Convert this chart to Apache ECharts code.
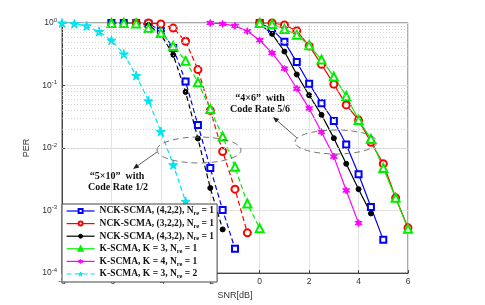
<!DOCTYPE html>
<html><head><meta charset="utf-8">
<script src="https://cdn.jsdelivr.net/npm/echarts@6/dist/echarts.min.js"></script>
<style>html,body{margin:0;padding:0;background:#fff}#c{width:485px;height:305px}</style>
</head><body><div id="c"></div>
<script>
// ---- data (SNR in dB, PER) ----
const seriesNames = [
  'NCK-SCMA, (4,2,2), Nre = 1',
  'NCK-SCMA, (3,2,2), Nre = 1',
  'NCK-SCMA, (4,3,2), Nre = 1',
  'K-SCMA, K = 3, Nre = 1',
  'K-SCMA, K = 4, Nre = 1',
  'K-SCMA, K = 3, Nre = 2'
];
// "4x6" code rate 5/6 (solid)
const blueSolidX = [0,0.5,1,1.5,2,2.5,3,3.5,4,4.5,5];
const blueSolidY = [1.0,0.8,0.5,0.237,0.107,0.052,0.027,0.0114,0.0038,0.00114,0.00034];
const redSolidX = [0,0.5,1,1.5,2,2.5,3,3.5,4,4.5,5,5.5,6];
const redSolidY = [1.0,1.0,0.93,0.75,0.43,0.218,0.105,0.049,0.028,0.0124,0.0056,0.0016,0.00053];
const blackSolidX = [0,0.5,1,1.5,2,2.5,3,3.5,4,4.5];
const blackSolidY = [0.96,0.67,0.35,0.15,0.07,0.034,0.0144,0.0056,0.0022,0.0009];
const greenSolidX = [0,0.5,1,1.5,2,2.5,3,3.5,4,4.5,5,5.5,6];
const greenSolidY = [1.0,0.965,0.8,0.65,0.44,0.26,0.139,0.068,0.028,0.014,0.0048,0.0016,0.00051];
const magentaX = [-2,-1.5,-1,-0.5,0,0.5,1,1.5,2,2.5,3,3.5,4];
const magentaY = [1.0,0.965,0.9,0.74,0.53,0.33,0.187,0.089,0.043,0.018,0.0073,0.0021,0.00063];
// "5x10" code rate 1/2 (dashed)
const blueDashX = [-6,-5.5,-5,-4.5,-4,-3.5,-3,-2.5,-2,-1.5,-1];
const blueDashY = [1,1,1,0.97,0.76,0.4,0.116,0.0233,0.0048,0.00102,0.000245];
const redDashX = [-5,-4.5,-4,-3.5,-3,-2.5,-2,-1.5,-1,-0.5];
const redDashY = [1,1.0,0.965,0.83,0.51,0.18,0.04,0.0088,0.0022,0.00044];
const blackDashX = [-6,-5.5,-5,-4.5,-4,-3.5,-3,-2.5,-2,-1.5];
const blackDashY = [1,1,1,0.93,0.66,0.31,0.079,0.0142,0.0023,0.0005];
const greenDashX = [-6,-5.5,-5,-4.5,-4,-3.5,-3,-2.5,-2,-1.5,-1,-0.5,0];
const greenDashY = [1,1,0.98,0.83,0.69,0.43,0.25,0.113,0.042,0.0153,0.005,0.0013,0.00052];
const cyanX = [-8,-7.5,-7,-6.5,-6,-5.5,-5,-4.5,-4,-3.5,-3,-2.5];
const cyanY = [1,0.975,0.9,0.73,0.53,0.32,0.144,0.057,0.0184,0.0054,0.0014,0.0003];
const xTicks = [-8,-6,-4,-2,0,2,4,6];

const zip = (xs, ys) => xs.map((x, i) => [x, ys[i]]);
const STAR5 = 'path://M50,0 L61,35 L98,35 L68,57 L79,91 L50,70 L21,91 L32,57 L2,35 L39,35 Z';
const STAR6 = 'path://M50,0 L62,29 L93,25 L74,50 L93,75 L62,71 L50,100 L38,71 L7,75 L26,50 L7,25 L38,29 Z';

const styles = [
  {color:'#0000ff', symbol:'emptyRect', size:6},
  {color:'#ff0000', symbol:'emptyCircle', size:7},
  {color:'#000000', symbol:'circle', size:5},
  {color:'#00ee00', symbol:'emptyTriangle', size:8},
  {color:'#ff00ff', symbol:STAR6, size:7},
  {color:'#00e5ee', symbol:STAR5, size:9}
];

const minorVals = [];
for (let e = -4; e < 0; e++) for (let m = 2; m <= 9; m++) minorVals.push(m * Math.pow(10, e));

function mk(idx, data, dashed, extra) {
  const s = styles[idx];
  return Object.assign({
    name: seriesNames[idx], type:'line', data: data,
    symbol: s.symbol, symbolSize: s.size,
    itemStyle: {color: s.color, borderColor: s.color, borderWidth: 1},
    lineStyle: {color: s.color, width: 1.2, type: dashed ? [5,3] : 'solid'},
    animation: false, z: 3
  }, extra || {});
}

const series = [
  mk(0, zip(blueSolidX, blueSolidY), false, {
    markLine: {silent:true, symbol:['none','none'], label:{show:false}, animation:false,
      lineStyle:{type:[1,2], color:'#c8c8c8', width:0.8},
      data: minorVals.map(v => ({yAxis: v}))}
  }),
  mk(1, zip(redSolidX, redSolidY), false),
  mk(2, zip(blackSolidX, blackSolidY), false),
  mk(3, zip(greenSolidX, greenSolidY), false),
  mk(4, zip(magentaX, magentaY), false),
  mk(5, zip(cyanX, cyanY), true),
  mk(0, zip(blueDashX, blueDashY), true),
  mk(1, zip(redDashX, redDashY), true),
  mk(2, zip(blackDashX, blackDashY), true),
  mk(3, zip(greenDashX, greenDashY), true)
];

const chart = echarts.init(document.getElementById('c'), null, {renderer:'canvas'});
const annFont = 'bold 10px "Liberation Serif", "DejaVu Serif", serif';
function arrow(x1, y1, x2, y2) {
  const a = Math.atan2(y2 - y1, x2 - x1), L = 6, W = 2.5;
  const bx = x2 - L * Math.cos(a), by = y2 - L * Math.sin(a);
  return [
    {type:'line', shape:{x1:x1, y1:y1, x2:bx, y2:by}, style:{stroke:'#333', lineWidth:0.8}, z:10},
    {type:'polygon', shape:{points:[[x2,y2],[bx - W*Math.sin(a), by + W*Math.cos(a)],[bx + W*Math.sin(a), by - W*Math.cos(a)]]}, style:{fill:'#222'}, z:10}
  ];
}
chart.setOption({
  backgroundColor:'#fff',
  animation:false,
  grid:{left:62, right:77, top:23, bottom:24, show:true, borderColor:'#555', borderWidth:1, backgroundColor:'transparent'},
  xAxis:{type:'value', min:-8, max:6, interval:2,
    name:'SNR[dB]', nameLocation:'middle', nameGap:15,
    nameTextStyle:{fontFamily:'Liberation Sans, Arial, sans-serif', fontSize:9, color:'#333'},
    axisLine:{show:true, onZero:false, lineStyle:{color:'#444', width:1}},
    axisTick:{show:true, inside:true, length:3, lineStyle:{color:'#444'}},
    axisLabel:{fontFamily:'Liberation Sans, Arial, sans-serif', fontSize:8.5, color:'#333', margin:4,
      formatter: v => xTicks.indexOf(v) >= 0 ? String(v) : ''},
    splitLine:{show:true, lineStyle:{color:'#e3e3e3', width:1}}
  },
  yAxis:{type:'log', logBase:10, min:1e-4, max:1,
    name:'PER', nameLocation:'middle', nameGap:30,
    nameTextStyle:{fontFamily:'Liberation Sans, Arial, sans-serif', fontSize:9, color:'#333'},
    axisLine:{show:true, onZero:false, lineStyle:{color:'#444', width:1}},
    axisTick:{show:true, inside:true, length:3, lineStyle:{color:'#444'}},
    axisLabel:{fontFamily:'Liberation Sans, Arial, sans-serif', fontSize:8.5, color:'#333', margin:5,
      formatter: v => '10{sup|' + Math.round(Math.log10(v)) + '}',
      rich:{sup:{fontSize:6, color:'#333', fontFamily:'Liberation Sans, Arial, sans-serif', padding:[0,0,6,0]}}},
    splitLine:{show:true, lineStyle:{color:'#e3e3e3', width:1}}
  },
  legend:{
    orient:'vertical', left:62, top:204,
    data: seriesNames,
    backgroundColor:'#fff', borderColor:'#444', borderWidth:1,
    padding:[2,3,2,4], itemWidth:28, itemHeight:5, itemGap:1.6,
    itemStyle:{borderWidth:1},
    lineStyle:{width:1.2},
    formatter: n => n.replace('Nre', 'N{sub|re}'),
    textStyle:{fontFamily:'"Liberation Serif", "DejaVu Serif", serif', fontWeight:'bold', fontSize:9.5, color:'#111',
      rich:{sub:{fontFamily:'"Liberation Serif", serif', fontWeight:'bold', fontSize:6.5, color:'#111', padding:[5,0,0,0]}}},
    z: 5
  },
  series: series,
  graphic:[
    {type:'ellipse', shape:{cx:199, cy:150, rx:42, ry:13}, style:{fill:'none', stroke:'#666', lineWidth:0.9, lineDash:[6,4]}, z:10},
    ...arrow(157, 152, 133, 169),
    {type:'text', x:117, y:176, style:{text:'\u201C5\u00D710\u201D  with', font:annFont, fill:'#111', align:'center', verticalAlign:'middle'}, z:10},
    {type:'text', x:118, y:187, style:{text:'Code Rate 1/2', font:annFont, fill:'#111', align:'center', verticalAlign:'middle'}, z:10},
    {type:'ellipse', shape:{cx:336, cy:142, rx:41, ry:12}, style:{fill:'none', stroke:'#666', lineWidth:0.9, lineDash:[6,4]}, z:10},
    ...arrow(297, 138, 273, 117),
    {type:'text', x:260, y:98, style:{text:'\u201C4\u00D76\u201D  with', font:annFont, fill:'#111', align:'center', verticalAlign:'middle'}, z:10},
    {type:'text', x:260, y:109, style:{text:'Code Rate 5/6', font:annFont, fill:'#111', align:'center', verticalAlign:'middle'}, z:10}
  ]
});
</script></body></html>
